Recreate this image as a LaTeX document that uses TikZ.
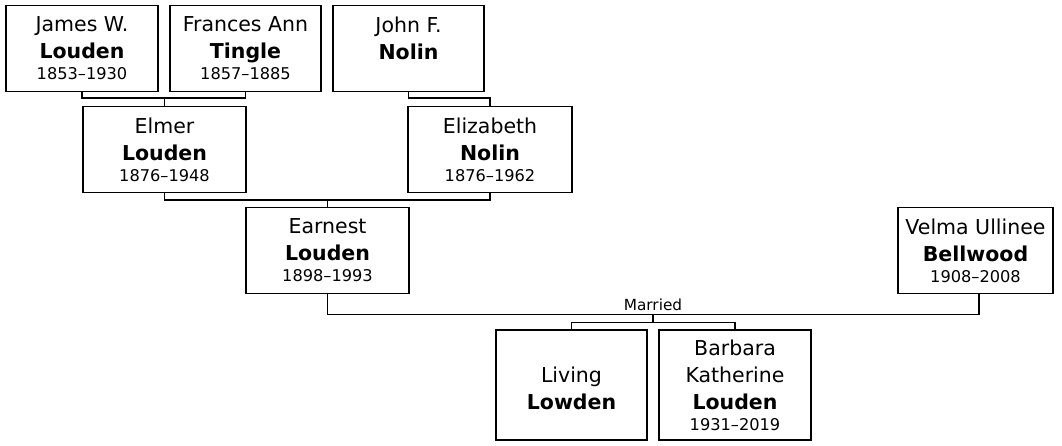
\documentclass[tikz,border=0pt]{standalone}
\usepackage{fontspec}
\setmainfont{DejaVu Sans}
\newcommand\yrs[1]{{\fontsize{16.2}{16}\selectfont #1}}
\newcommand\sur[1]{\textbf{#1}}
\begin{document}
\begin{tikzpicture}[x=1pt,y=-1pt,
  person/.style={draw=black, line width=1.3pt, inner sep=0pt, align=center,
    font=\fontsize{20.5}{27}\selectfont, minimum height=86pt},
  kid/.style={person, minimum height=110pt},
  link/.style={draw=black, line width=1.3pt},
  lbl/.style={font=\fontsize{15.3}{15}\selectfont, inner sep=0pt, anchor=base}]
\useasboundingbox (0,0) rectangle (1062,445);
% generation 1
\node[person, minimum width=152pt] (james) at (82,48.5) {James W.\\ \sur{Louden}\\[-6pt] \yrs{1853–1930}};
\node[person, minimum width=151pt] (frances) at (245.5,48.5) {Frances Ann\\ \sur{Tingle}\\[-6pt] \yrs{1857–1885}};
\node[person, minimum width=151pt] (john) at (408.5,48.5) {John F.\\ \sur{Nolin}\\[-6pt] \yrs{\phantom{1853–1930}}};
% generation 2
\node[person, minimum width=163pt] (elmer) at (164.5,149.5) {Elmer\\ \sur{Louden}\\[-6pt] \yrs{1876–1948}};
\node[person, minimum width=164pt] (eliz) at (490,149.5) {Elizabeth\\ \sur{Nolin}\\[-6pt] \yrs{1876–1962}};
% generation 3
\node[person, minimum width=163pt] (earnest) at (327.5,250.5) {Earnest\\ \sur{Louden}\\[-6pt] \yrs{1898–1993}};
\node[person, minimum width=155pt] (velma) at (975.5,250.5) {Velma Ullinee\\ \sur{Bellwood}\\[-6pt] \yrs{1908–2008}};
% children
\node[kid, minimum width=151pt] (living) at (571.5,385) {\phantom{Barbara}\\ Living\\ \sur{Lowden}\\[-6pt] \yrs{\phantom{1931–2019}}};
\node[kid, minimum width=152pt] (barbara) at (735,385) {Barbara\\ Katherine\\ \sur{Louden}\\[-6pt] \yrs{1931–2019}};
% junction points
\coordinate (jf) at (164.5,98);
\coordinate (jn) at (490,98);
\coordinate (ee) at (327.5,200);
\coordinate (m) at (653,314.5);
\coordinate (c) at (653,322.5);
% connectors
\draw[link] (james.south) |- (jf) -| (frances.south);
\draw[link] (jf) -- (elmer.north);
\draw[link] (john.south) |- (jn) -- (eliz.north);
\draw[link] (elmer.south) |- (ee) -| (eliz.south);
\draw[link] (ee) -- (earnest.north);
\draw[link] (earnest.south) |- (m) -| ([xshift=3.5pt]velma.south);
\node[lbl] (married) at (653,310) {Married};
\draw[link] (m) -- (c);
\draw[link] (living.north) |- (c) -| (barbara.north);
\end{tikzpicture}
\end{document}
